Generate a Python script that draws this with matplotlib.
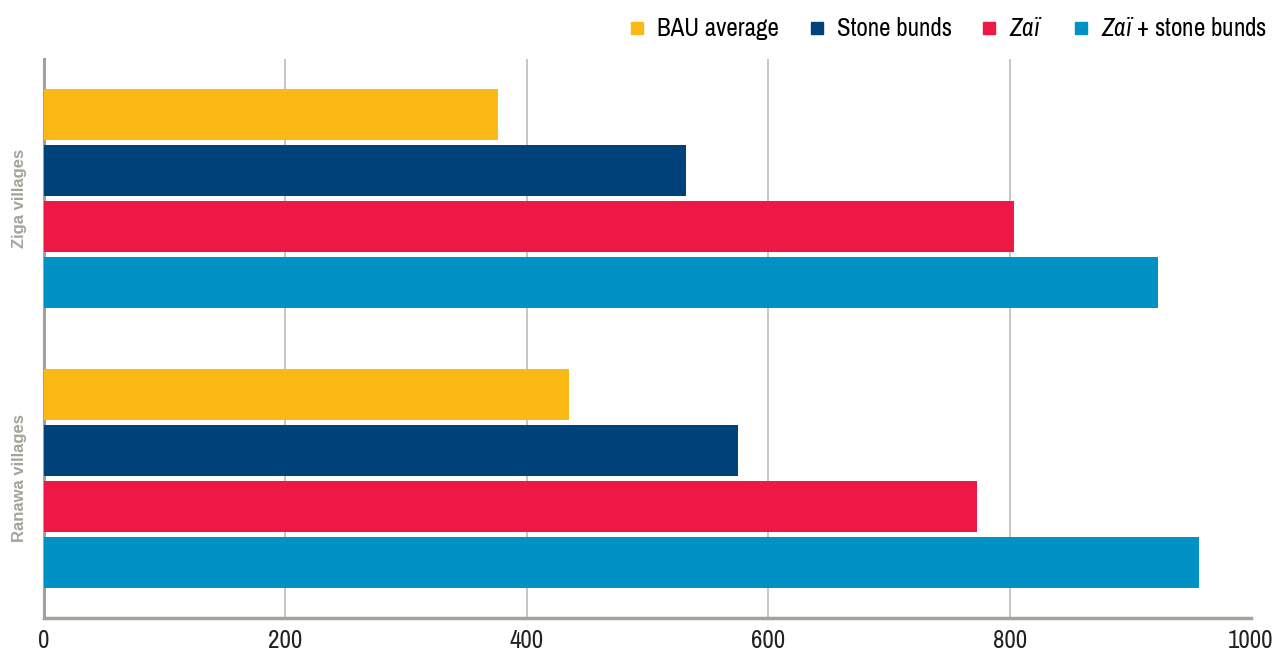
import numpy as np
import matplotlib
matplotlib.use('Agg')
import matplotlib.pyplot as plt
from matplotlib.lines import Line2D
from matplotlib import font_manager

# look for a narrow / condensed face, the original uses a condensed grotesk
narrow = None
for f in font_manager.fontManager.ttflist:
    if 'Narrow' in f.name or 'Condensed' in f.name:
        narrow = f.name
        break
cond = [f for f in font_manager.fontManager.ttflist if f.stretch in ('condensed', 'semi-condensed')]

groups = ['Ziga villages', 'Ranawa villages']
series = ['BAU average', 'Stone bunds', 'Zaï', 'Zaï + stone bunds']
colors = ['#fbb915', '#00437a', '#ee1847', '#0091c5']
values = {
    'BAU average': [376, 435],
    'Stone bunds': [532, 575],
    'Zaï': [804, 773],
    'Zaï + stone bunds': [923, 957],
}
xticks = [0, 200, 400, 600, 800, 1000]

if narrow:
    fam = narrow
    stretch = 'normal'
elif cond:
    fam = cond[0].name
    stretch = 'condensed'
else:
    fam = 'Liberation Sans'
    stretch = 'normal'
plt.rcParams['font.family'] = [fam, 'DejaVu Sans']
plt.rcParams['font.stretch'] = stretch
plt.rcParams['mathtext.fontset'] = 'custom'
plt.rcParams['mathtext.rm'] = fam
plt.rcParams['mathtext.it'] = fam + ':italic'

legend_labels = ['BAU average', 'Stone bunds', r'$\mathit{Zaï}$', r'$\mathit{Zaï}$ + stone bunds']

fig = plt.figure(figsize=(12.74, 6.51), dpi=100)
ax = fig.add_axes([44 / 1274, 33 / 651, 1207 / 1274, 559 / 651])

grey = '#a3a29b'
slot = 0.2
height = 0.1825
y_centers = np.array([1, 0])  # Ziga on top
for i, s in enumerate(series):
    offs = (1.5 - i) * slot
    ax.barh(y_centers + offs, values[s], height=height, color=colors[i], zorder=3)

ax.set_xlim(0, 1000)
ax.set_ylim(-0.5, 1.5)
ax.set_xticks(xticks)
ax.set_xticklabels([str(t) for t in xticks], fontsize=18, color='#222222')
ax.tick_params(axis='x', length=0, pad=8)
ax.set_yticks([])
for t in xticks[1:-1]:
    ax.axvline(t, color='#bdbcb6', linewidth=1.2, zorder=0)
for sp in ['top', 'right']:
    ax.spines[sp].set_visible(False)
ax.spines['left'].set_color(grey)
ax.spines['left'].set_linewidth(2.2)
ax.spines['bottom'].set_color(grey)
ax.spines['bottom'].set_linewidth(2.5)

for g, yc in zip(groups, y_centers):
    ax.text(-0.02, yc, g, transform=ax.get_yaxis_transform(), rotation=90,
            ha='center', va='center', fontsize=12, fontweight='bold', color='#a3a29b',
            family=['Liberation Sans', 'DejaVu Sans'])

handles = [Line2D([], [], marker='s', linestyle='none', markersize=8.5,
                  markerfacecolor=c, markeredgecolor=c) for c in colors]
leg = fig.legend(handles, legend_labels, loc='upper right', bbox_to_anchor=(1.012, 1.008),
                 ncol=4, frameon=False, fontsize=18, handletextpad=0.3,
                 columnspacing=1.0, handlelength=1.0)
leg.get_texts()[2].set_fontstyle('italic')

fig.savefig('out.png', dpi=100)
